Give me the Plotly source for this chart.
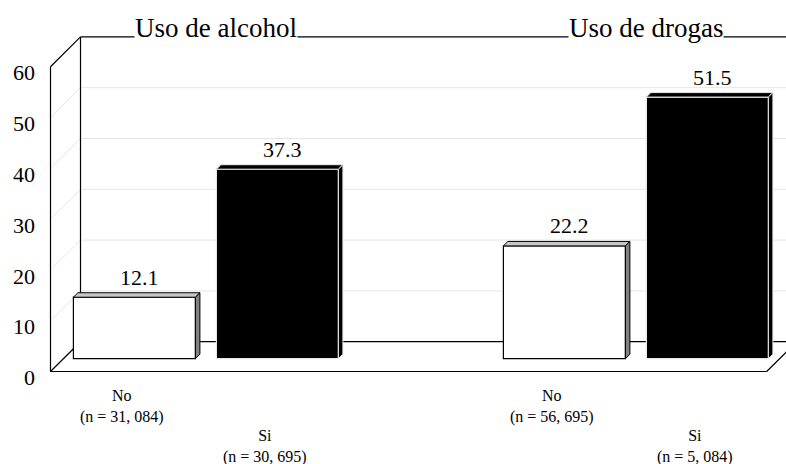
import plotly.graph_objects as go

# ---------------- data ----------------
groups = ["Uso de alcohol", "Uso de drogas"]
series_names = ["No", "Si"]
no_values = [12.1, 22.2]
si_values = [37.3, 51.5]
no_n = ["31, 084", "56, 695"]
si_n = ["30, 695", "5, 084"]
y_ticks = [0, 10, 20, 30, 40, 50, 60]

# ---------------- layout geometry (pixels -> axis units) ----------------
W, H = 786, 464
ML = 45
PX_PER_GROUP = 430.0
GROUP0_PX = 193.0
PX_PER_UNIT = 5.08
ZERO_PX = 371.5

x_range = [(ML - GROUP0_PX) / PX_PER_GROUP, (W - GROUP0_PX) / PX_PER_GROUP]
y_range = [(ZERO_PX - H) / PX_PER_UNIT, ZERO_PX / PX_PER_UNIT]

DXu = 30.0 / PX_PER_GROUP         # depth offset of the chart box (x)
DYu = 29.8 / PX_PER_UNIT          # depth offset of the chart box (y)
XL = (50.5 - GROUP0_PX) / PX_PER_GROUP   # front-left edge of floor
XR = (766.7 - GROUP0_PX) / PX_PER_GROUP  # front-right edge of floor
YMAX = 60

OFF = 71.5 / PX_PER_GROUP   # half distance between series bars
BW = 122.0 / PX_PER_GROUP   # bar width
DF = 0.43                   # depth of the bars' front face
DT = 0.15                   # bar thickness (fraction of box depth)

FONT = "Liberation Serif"

fig = go.Figure()

shapes = []
def line(x0, y0, x1, y1, color="black", width=1.2):
    shapes.append(dict(type="line", xref="x", yref="y", x0=x0, y0=y0, x1=x1, y1=y1,
                       line=dict(color=color, width=width), layer="below"))

# gridlines on walls
for k in y_ticks[1:-1]:
    line(XL, k, XL + DXu, k + DYu, color="#e6e6e6", width=1)
    line(XL + DXu, k + DYu, XR + 2 * DXu, k + DYu, color="#e6e6e6", width=1)

# walls and floor edges
line(XL, 0, XL, YMAX)
line(XL, YMAX, XL + DXu, YMAX + DYu)
line(XL + DXu, DYu, XL + DXu, YMAX + DYu)
line(XL + DXu, YMAX + DYu, XR + 2 * DXu, YMAX + DYu)
line(XL, 0, XR, 0)
line(XL, 0, XL + DXu, DYu)
line(XL + DXu, DYu, XR + 2 * DXu, DYu)
line(XR, 0, XR + DXu, DYu)

series = [
    ("No", no_values, no_n, -OFF, "white", "black", "#c8c8c8", "#808080", "black"),
    ("Si", si_values, si_n, +OFF, "black", "#e8e8e8", "black", "black", "#e8e8e8"),
]

base = DF * DYu
dxs = DF * DXu
tx = DT * DXu
ty = DT * DYu

annotations = []
for name, vals, ns, off, fill, edge, topc, sidec, faceedge in series:
    xs = [g + off + dxs for g in range(len(groups))]
    fig.add_trace(go.Bar(
        x=xs, y=vals, base=base, width=BW,
        marker=dict(color=fill, line=dict(color=edge, width=1.2)),
        showlegend=False, hoverinfo="skip"))
    for xc, v in zip(xs, vals):
        x0, x1 = xc - BW / 2, xc + BW / 2
        top = base + v
        fig.add_trace(go.Scatter(
            x=[x0, x0 + tx, x1 + tx, x1, x0],
            y=[top, top + ty, top + ty, top, top],
            mode="lines", fill="toself", fillcolor=topc,
            line=dict(color=faceedge, width=1), showlegend=False, hoverinfo="skip"))
        fig.add_trace(go.Scatter(
            x=[x1, x1 + tx, x1 + tx, x1, x1],
            y=[base, base + ty, top + ty, top, base],
            mode="lines", fill="toself", fillcolor=sidec,
            line=dict(color=faceedge, width=1), showlegend=False, hoverinfo="skip"))
        annotations.append(dict(
            x=xc, y=top, xref="x", yref="y", text=f"{v:.1f}", showarrow=False,
            xshift=5.5, yshift=20, yanchor="middle",
            font=dict(family=FONT, size=22, color="black")))
    for g, n in enumerate(ns):
        annotations.append(dict(
            x=g + off, y=0, xref="x", yref="y", text=f"{name}<br>(n = {n})",
            showarrow=False, yanchor="middle",
            yshift=-35 if name == "No" else -75,
            font=dict(family=FONT, size=16, color="black")))

for g, title in enumerate(groups):
    annotations.append(dict(
        x=g + DXu, y=YMAX + DYu, xref="x", yref="y", text=title, showarrow=False,
        xshift=-7, yshift=9, yanchor="middle", bgcolor="white", borderpad=0,
        font=dict(family=FONT, size=27, color="black")))

fig.update_layout(
    width=W, height=H,
    margin=dict(l=ML, r=0, t=0, b=0),
    paper_bgcolor="white", plot_bgcolor="white",
    barmode="overlay",
    shapes=shapes, annotations=annotations,
    xaxis=dict(range=x_range, visible=False, fixedrange=True),
    yaxis=dict(range=y_range, tickvals=y_ticks, ticktext=[str(t) for t in y_ticks],
               showgrid=False, zeroline=False, showline=False, ticks="",
               ticklabelstandoff=9, ticklabelshift=6,
               tickfont=dict(family=FONT, size=22, color="black"), fixedrange=True),
    font=dict(family=FONT),
)

fig.write_html("out.html", config={"displayModeBar": False},
               post_script="document.body.style.margin='0';")
